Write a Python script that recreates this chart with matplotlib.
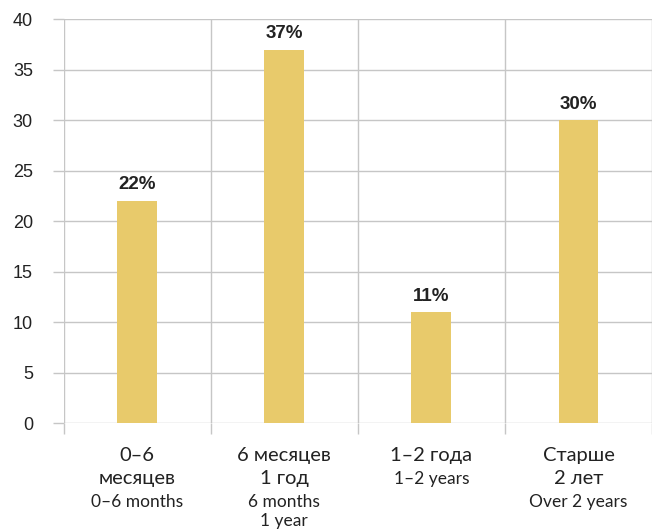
import matplotlib
matplotlib.use("Agg")
import matplotlib.pyplot as plt
from matplotlib.ticker import FixedLocator

# Share of respondents by period
values = [22, 37, 11, 30]
labels_ru = [["0–6", "месяцев"], ["6 месяцев", "1 год"], ["1–2 года"], ["Старше", "2 лет"]]
labels_en = [["0–6 months"], ["6 months", "1 year"], ["1–2 years"], ["Over 2 years"]]
y_ticks = [0, 5, 10, 15, 20, 25, 30, 35, 40]

BAR = "#E8CA6B"
GRID = "#C6C6C6"
TEXT = "#222222"
NUM_FONT = ["Liberation Sans", "DejaVu Sans"]
CAT_FONT = ["Lato", "Noto Sans", "DejaVu Sans"]

fig = plt.figure(figsize=(6.52, 5.30), dpi=100)
ax = fig.add_axes([0.0974, 0.2013, 0.9026, 0.7623])

x = list(range(len(values)))
ax.bar(x, values, width=0.27, color=BAR, zorder=3)

ax.set_xlim(-0.5, len(values) - 0.5)
ax.set_ylim(0, 40)
ax.set_yticks(y_ticks)
ax.set_yticklabels([str(t) for t in y_ticks], fontsize=13, color=TEXT, family=NUM_FONT)

ax.set_xticks([])
ax.xaxis.set_minor_locator(FixedLocator([i - 0.5 for i in range(len(values) + 1)]))
ax.tick_params(axis="x", which="minor", length=8, width=1.0, color=GRID, labelbottom=False)
ax.tick_params(axis="y", length=8, width=1.0, color=GRID, pad=14)

ax.grid(axis="y", color=GRID, linewidth=1.0, zorder=0)
ax.grid(axis="x", which="minor", color=GRID, linewidth=1.0, zorder=0)
for s in ax.spines.values():
    s.set_visible(False)

# value labels above bars
for xi, v in zip(x, values):
    ax.annotate(f"{v}%", xy=(xi, v), xytext=(0, 5.5), textcoords="offset points",
                ha="center", va="bottom", fontsize=13.5, fontweight="bold",
                color=TEXT, family=NUM_FONT)

# two-language category labels under the axis
for xi, ru, en in zip(x, labels_ru, labels_en):
    off = 23.0
    for line in ru:
        ax.annotate(line, xy=(xi, 0), xycoords=("data", "axes fraction"),
                    xytext=(0, -off), textcoords="offset points",
                    ha="center", va="center", fontsize=14.5, color=TEXT, family=CAT_FONT)
        off += 16.8
    for line in en:
        ax.annotate(line, xy=(xi, 0), xycoords=("data", "axes fraction"),
                    xytext=(0, -off), textcoords="offset points",
                    ha="center", va="center", fontsize=12.5, color=TEXT, family=CAT_FONT)
        off += 13.5

fig.savefig("out.png", dpi=100)
